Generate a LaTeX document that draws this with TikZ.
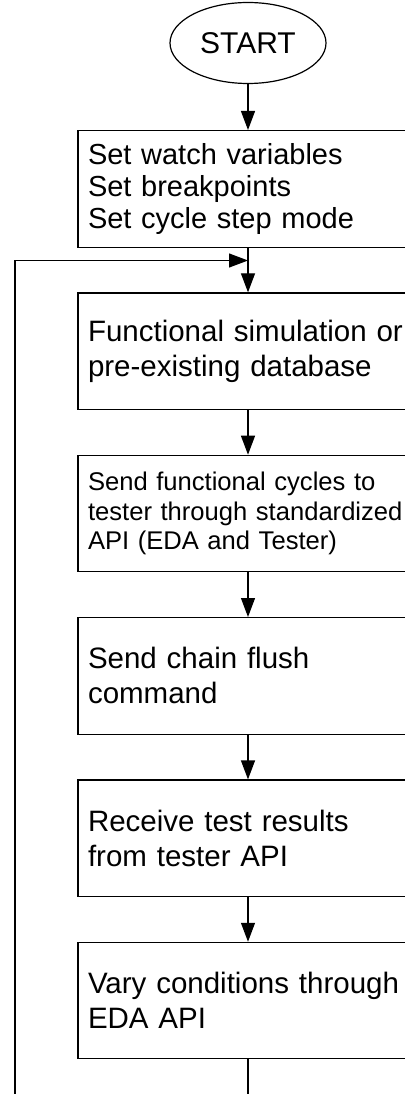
\documentclass[tikz,border=0pt]{standalone}
\usepackage{fontspec}
\setmainfont{Liberation Sans}
\usetikzlibrary{arrows.meta,shapes.geometric}
\begin{document}
\begin{tikzpicture}[x=1pt,y=-1pt,
  line width=1.2pt,
  flow/.style={-{Triangle[length=19pt,width=14pt]}},
  bigtext/.style={font=\fontsize{29.5}{35}\selectfont},
  stepbox/.style={draw, rectangle, anchor=north, minimum height=116.5pt,
    text width=320pt, inner xsep=10pt, inner ysep=0pt, align=left, bigtext},
  ]
\useasboundingbox (0,0) rectangle (404,1094);

% start terminal
\node[draw, ellipse, minimum width=156pt, minimum height=81pt, inner sep=0pt,
  font=\fontsize{30}{35}\selectfont]
  (start) at (248,43) {START};

% process steps
\node[stepbox, font=\fontsize{29}{32}\selectfont] (b1) at (248,130)
  {Set watch variables\\Set breakpoints\\Set cycle step mode};
\node[stepbox] (b2) at (248,292.35)
  {Functional simulation or\\pre-existing database};
\node[stepbox, font=\fontsize{25.6}{29.3}\selectfont] (b3) at (248,454.7)
  {Send functional cycles to\\tester through standardized\\API (EDA and Tester)};
\node[stepbox] (b4) at (248,617)
  {Send chain flush\\command};
\node[stepbox] (b5) at (248,779.4)
  {Receive test results\\from tester API};
\node[stepbox] (b6) at (248,941.75)
  {Vary conditions through\\EDA API};

% main flow
\draw[flow] (start.south) -- (b1.north);
\draw[flow] (b1.south) -- (b2.north);
\draw[flow] (b2.south) -- (b3.north);
\draw[flow] (b3.south) -- (b4.north);
\draw[flow] (b4.south) -- (b5.north);
\draw[flow] (b5.south) -- (b6.north);

% exit and loop back
\coordinate (exit) at (248,1094);
\draw (b6.south) -- (exit);
\coordinate (loopbot) at (15,1094);
\coordinate (loopin) at (248,260.5);
\draw[flow] (loopbot) |- (loopin);
\end{tikzpicture}
\end{document}
